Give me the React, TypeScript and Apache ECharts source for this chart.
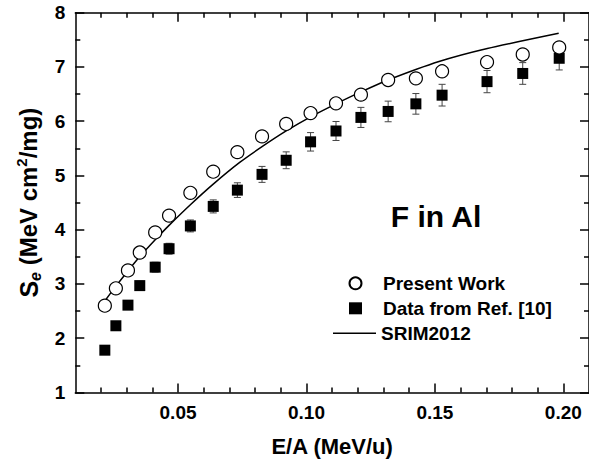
import React, { useEffect, useRef } from "react";
import * as echarts from "echarts";

// E/A (MeV/u) of the measured points
const energyPerNucleon = [
  0.0215, 0.0258, 0.0305, 0.0351, 0.0411, 0.0465, 0.0548, 0.0637, 0.0731, 0.0827,
  0.0921, 0.1016, 0.1115, 0.1212, 0.1318, 0.1426, 0.1528, 0.1703, 0.1842, 0.1984,
];
// Present Work (open circles)
const presentWork = [
  2.6, 2.92, 3.25, 3.58, 3.95, 4.26, 4.68, 5.07, 5.43, 5.72,
  5.95, 6.15, 6.33, 6.49, 6.76, 6.79, 6.92, 7.09, 7.23, 7.36,
];
// Data from Ref. [10] (filled squares) and their error bars
const refData = [
  1.78, 2.23, 2.61, 2.97, 3.31, 3.65, 4.07, 4.43, 4.73, 5.02,
  5.28, 5.62, 5.82, 6.07, 6.18, 6.32, 6.48, 6.73, 6.88, 7.16,
];
const refErr = [
  0.05, 0.06, 0.07, 0.08, 0.09, 0.1, 0.11, 0.12, 0.135, 0.147,
  0.155, 0.17, 0.175, 0.185, 0.19, 0.19, 0.2, 0.205, 0.2, 0.215,
];
// SRIM2012 curve
const srimEnergy = [
  0.022, 0.0258, 0.0305, 0.0352, 0.0412, 0.0465, 0.0548, 0.0637, 0.074, 0.0827,
  0.0921, 0.1016, 0.1115, 0.1212, 0.1318, 0.1516, 0.1704, 0.1982,
];
const srimSe = [
  2.72, 2.96, 3.24, 3.51, 3.82, 4.08, 4.46, 4.84, 5.24, 5.53,
  5.82, 6.08, 6.32, 6.54, 6.76, 7.1, 7.34, 7.62,
];
// Axis ticks
const xMajorTicks = [0.05, 0.1, 0.15, 0.2];
const xMinorTicks = [
  0.02, 0.03, 0.04, 0.06, 0.07, 0.08, 0.09, 0.11, 0.12, 0.13, 0.14, 0.16, 0.17, 0.18, 0.19,
];

const FONT = '"Liberation Sans", Arial, Helvetica, sans-serif';

export default function App() {
  const ref = useRef<HTMLDivElement>(null);

  useEffect(() => {
    const chart = echarts.init(ref.current as HTMLDivElement, undefined, { renderer: "svg" });
    const lineStyle = { color: "#000", width: 1.5 };
    const xBase: any = {
      type: "value",
      min: 0.01,
      max: 0.21,
      splitLine: { show: false },
      axisLine: { show: true, onZero: false, lineStyle },
      axisLabel: { show: false },
    };
    const yBase: any = {
      type: "value",
      min: 1,
      max: 8,
      interval: 1,
      splitLine: { show: false },
      minorSplitLine: { show: false },
      axisLine: { show: true, onZero: false, lineStyle },
      axisTick: { show: true, inside: true, length: 9, lineStyle },
      minorTick: { show: true, splitNumber: 2, length: 5, lineStyle },
    };
    const legendText = {
      color: "#000",
      fontFamily: FONT,
      fontWeight: "bold",
      fontSize: 19,
      lineHeight: 19,
    };

    const option: any = {
      animation: false,
      grid: { left: 75.3, top: 12.7, right: -2.3, bottom: 74.5 },
      xAxis: [
        {
          ...xBase,
          position: "bottom",
          axisTick: { show: true, inside: true, length: 9, lineStyle, customValues: xMajorTicks },
          axisLabel: {
            show: true,
            customValues: xMajorTicks,
            formatter: (v: number) => v.toFixed(2),
            margin: 10,
            color: "#000",
            fontFamily: FONT,
            fontWeight: "bold",
            fontSize: 19,
          },
          name: "E/A (MeV/u)",
          nameLocation: "middle",
          nameGap: 43,
          nameTextStyle: { color: "#000", fontFamily: FONT, fontWeight: "bold", fontSize: 22 },
        },
        {
          ...xBase,
          position: "bottom",
          axisLine: { show: false },
          axisTick: { show: true, inside: true, length: 5, lineStyle, customValues: xMinorTicks },
        },
        {
          ...xBase,
          position: "top",
          axisTick: { show: true, inside: true, length: 9, lineStyle, customValues: xMajorTicks },
        },
        {
          ...xBase,
          position: "top",
          axisLine: { show: false },
          axisTick: { show: true, inside: true, length: 5, lineStyle, customValues: xMinorTicks },
        },
      ],
      yAxis: [
        {
          ...yBase,
          position: "left",
          axisLabel: {
            show: true,
            margin: 10,
            color: "#000",
            fontFamily: FONT,
            fontWeight: "bold",
            fontSize: 19,
          },
          name: "{s|S}{sub|e}{t| (MeV cm}{sup|2}{t|/mg)}",
          nameLocation: "middle",
          nameGap: 30,
          nameTextStyle: {
            color: "#000",
            fontFamily: FONT,
            fontWeight: "bold",
            fontSize: 24,
            rich: {
              s: { fontFamily: FONT, fontWeight: "bold", fontSize: 25, lineHeight: 30, color: "#000" },
              t: { fontFamily: FONT, fontWeight: "bold", fontSize: 24, lineHeight: 30, color: "#000" },
              sub: {
                fontFamily: FONT,
                fontStyle: "italic",
                fontWeight: "bold",
                fontSize: 16,
                lineHeight: 14,
                verticalAlign: "bottom",
                color: "#000",
              },
              sup: {
                fontFamily: FONT,
                fontWeight: "bold",
                fontSize: 15,
                lineHeight: 14,
                verticalAlign: "top",
                color: "#000",
              },
            },
          },
        },
        { ...yBase, position: "right", axisLabel: { show: false } },
      ],
      legend: [
        {
          orient: "vertical",
          left: 343.5,
          top: 268.8,
          itemWidth: 13,
          itemHeight: 12,
          itemGap: 6,
          textStyle: { ...legendText, padding: [0, 0, 0, 16] },
          data: [
            { name: "Present Work", icon: "circle" },
            { name: "Data from Ref. [10]", icon: "rect" },
          ],
        },
        {
          orient: "vertical",
          left: 328,
          top: 318.8,
          itemWidth: 43,
          itemHeight: 1.5,
          itemGap: 6,
          textStyle: legendText,
          data: [{ name: "SRIM2012", icon: "rect" }],
        },
      ],
      graphic: [
        {
          type: "text",
          x: 436,
          y: 216.5,
          style: {
            text: "F in Al",
            font: `bold 30px ${FONT}`,
            fill: "#000",
            textAlign: "center",
            textVerticalAlign: "middle",
          },
        },
      ],
      series: [
        {
          name: "SRIM2012",
          type: "line",
          data: srimEnergy.map((x, i) => [x, srimSe[i]]),
          symbol: "none",
          smooth: 0.2,
          lineStyle: { color: "#000", width: 1.5 },
          itemStyle: { color: "#000" },
          z: 2,
        },
        {
          name: "errorbars",
          type: "custom",
          dimensions: ["x", "y", "err"],
          encode: { x: 0, y: 1 },
          data: energyPerNucleon.map((x, i) => [x, refData[i], refErr[i]]),
          renderItem: (_params: any, api: any) => {
            const x = api.value(0);
            const y = api.value(1);
            const e = api.value(2);
            const top = api.coord([x, y + e]);
            const bot = api.coord([x, y - e]);
            const hw = 3.5;
            const st = { stroke: "#444", lineWidth: 1 };
            return {
              type: "group",
              children: [
                { type: "line", shape: { x1: top[0], y1: top[1], x2: bot[0], y2: bot[1] }, style: st },
                { type: "line", shape: { x1: top[0] - hw, y1: top[1], x2: top[0] + hw, y2: top[1] }, style: st },
                { type: "line", shape: { x1: bot[0] - hw, y1: bot[1], x2: bot[0] + hw, y2: bot[1] }, style: st },
              ],
            };
          },
          silent: true,
          z: 1,
        },
        {
          name: "Data from Ref. [10]",
          type: "scatter",
          symbol: "rect",
          symbolSize: 11,
          data: energyPerNucleon.map((x, i) => [x, refData[i]]),
          itemStyle: { color: "#000", opacity: 1 },
          z: 3,
        },
        {
          name: "Present Work",
          type: "scatter",
          symbol: "circle",
          symbolSize: 13,
          data: energyPerNucleon.map((x, i) => [x, presentWork[i]]),
          itemStyle: { color: "#fff", borderColor: "#000", borderWidth: 1.2, opacity: 1 },
          z: 4,
        },
      ],
    };
    chart.setOption(option);
    return () => chart.dispose();
  }, []);

  return (
    <div
      ref={ref}
      style={{ position: "absolute", left: 0, top: 0, width: 589, height: 467, background: "#fff" }}
    />
  );
}
